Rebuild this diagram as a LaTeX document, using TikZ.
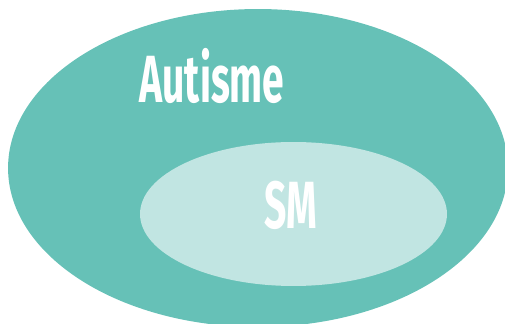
\documentclass[tikz,border=0pt]{standalone}
\usepackage{fontspec}
\setmainfont{Fira Sans}
\newfontfamily\narrowfont[FakeStretch=0.585]{Fira Sans}
\usepackage{xcolor}
\usetikzlibrary{positioning}
\definecolor{tealset}{HTML}{66C1B7}
\definecolor{palteal}{HTML}{C1E5E2}

\begin{document}
\begin{tikzpicture}[x=0.02cm,y=-0.02cm]
	\tikzstyle{every node}=[font=\narrowfont\bfseries\fontsize{38}{40}\selectfont, text=white, inner sep=0pt]
	\useasboundingbox (0,0) rectangle (505,324);
	\clip (0,0) rectangle (505,324);
	% outer set and the subset inside it
	\fill [tealset] (258,168) ellipse [x radius=5cm, y radius=3.18cm];
	\fill [palteal] (293.5,214) ellipse [x radius=3.07cm, y radius=1.44cm];
	\node [anchor=base] (autisme) at (212,103) {Autisme};
	\node [anchor=base] (sm) at (291,229) {SM};
\end{tikzpicture}
\end{document}
